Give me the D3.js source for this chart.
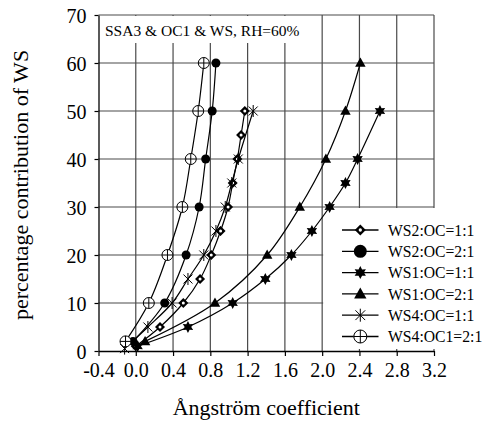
<!DOCTYPE html>
<html>
<head>
<meta charset="utf-8">
<script src="https://cdn.jsdelivr.net/npm/d3@7"></script>
<style>
    body { margin: 0; background: #fff; }
    svg { display: block; }
    text { font-family: "Liberation Serif", "DejaVu Serif", serif; fill: #000; }
    .tick-label { font-size: 20px; }
    .axis-title { font-size: 22px; }
    .legend-label { font-size: 15.7px; }
    .chart-title { font-size: 15.5px; }
</style>
</head>
<body>
<div id="chart"></div>
<script>
// Tick values
const xTicks = [-0.4, 0.0, 0.4, 0.8, 1.2, 1.6, 2.0, 2.4, 2.8, 3.2];
const yTicks = [0, 10, 20, 30, 40, 50, 60, 70];

// Series values: [Ångström coefficient, percentage contribution of WS]
const ws2Oc11 = [[0.00, 1], [0.26, 5], [0.51, 10], [0.69, 15], [0.81, 20], [0.91, 25], [0.99, 30], [1.04, 35], [1.09, 40], [1.13, 45], [1.17, 50]];
const ws2Oc21 = [[-0.03, 2], [0.31, 10], [0.54, 20], [0.68, 30], [0.75, 40], [0.82, 50], [0.86, 60]];
const ws1Oc11 = [[0.02, 1], [0.56, 5], [1.04, 10], [1.39, 15], [1.67, 20], [1.89, 25], [2.08, 30], [2.25, 35], [2.38, 40], [2.62, 50]];
const ws1Oc21 = [[0.10, 2], [0.85, 10], [1.41, 20], [1.76, 30], [2.04, 40], [2.25, 50], [2.41, 60]];
const ws4Oc11 = [[-0.12, 0.5], [0.13, 5], [0.39, 10], [0.56, 15], [0.73, 20], [0.86, 25], [0.96, 30], [1.03, 35], [1.10, 40], [1.26, 50]];
const ws4Oc121 = [[-0.11, 2], [0.14, 10], [0.34, 20], [0.50, 30], [0.59, 40], [0.67, 50], [0.73, 60]];

const seriesNames = ["WS2:OC=1:1", "WS2:OC=2:1", "WS1:OC=1:1", "WS1:OC=2:1", "WS4:OC=1:1", "WS4:OC1=2:1"];
const seriesValues = [ws2Oc11, ws2Oc21, ws1Oc11, ws1Oc21, ws4Oc11, ws4Oc121];
const markerTypes = ["diamond", "dot", "star", "triangle", "asterisk", "circlePlus"];

const chartTitle = "SSA3 & OC1 & WS, RH=60%";
const xTitle = "Ångström coefficient";
const yTitle = "percentage contribution of WS";

(() => {
    const width = 483;
    const height = 421;
    const margin = { top: 15, right: 49, bottom: 70, left: 98.5 };
    const innerWidth = width - margin.left - margin.right;
    const innerHeight = height - margin.top - margin.bottom;

    const svg = d3.select("#chart")
        .append("svg")
        .attr("width", width)
        .attr("height", height);

    const g = svg.append("g")
        .attr("transform", `translate(${margin.left}, ${margin.top})`);

    const x = d3.scaleLinear().domain([-0.4, 3.2]).range([0, innerWidth]);
    const y = d3.scaleLinear().domain([0, 70]).range([innerHeight, 0]);

    // Grid lines
    const grid = g.append("g").attr("stroke", "#4a4a4a").attr("stroke-width", 1.2);
    grid.selectAll("line.v").data(xTicks.slice(1)).enter()
        .append("line")
        .attr("x1", d => x(d)).attr("x2", d => x(d))
        .attr("y1", 0).attr("y2", innerHeight);
    grid.selectAll("line.h").data(yTicks.slice(1)).enter()
        .append("line")
        .attr("x1", 0).attr("x2", innerWidth)
        .attr("y1", d => y(d)).attr("y2", d => y(d));

    // White box behind the chart title
    g.append("rect")
        .attr("x", 1).attr("y", 1)
        .attr("width", x(1.85) - 1).attr("height", 27)
        .attr("fill", "#fff");
    g.append("text")
        .text(chartTitle)
        .classed("chart-title", true)
        .attr("x", 6.5).attr("y", 21);

    // White box behind the legend
    const legendLeft = x(2.0) + 1;
    g.append("rect")
        .attr("x", legendLeft).attr("y", y(30) + 1)
        .attr("width", width - margin.left - legendLeft)
        .attr("height", y(0) - y(30) - 3)
        .attr("fill", "#fff");

    // Axes
    const xAxis = g.append("g")
        .attr("transform", `translate(0, ${innerHeight})`)
        .call(d3.axisBottom(x).tickValues(xTicks).tickSizeInner(5).tickSizeOuter(0).tickPadding(7)
            .tickFormat(d => d3.format(".1f")(d).replace("−", "-")));
    const yAxis = g.append("g")
        .call(d3.axisLeft(y).tickValues(yTicks).tickSizeInner(4).tickSizeOuter(0).tickPadding(8));
    [xAxis, yAxis].forEach(ax => {
        ax.attr("font-family", null).attr("font-size", null);
        ax.select(".domain").attr("stroke", "#000").attr("stroke-width", 1.3);
        ax.selectAll(".tick line").attr("stroke", "#000").attr("stroke-width", 1.2);
        ax.selectAll(".tick text")
            .classed("tick-label", true)
            .attr("fill", "#000");
    });
    yAxis.selectAll(".tick text").attr("dy", "0.38em");

    // Marker shapes
    function drawMarker(sel, type, s) {
        if (type === "diamond") {
            sel.append("path")
                .attr("d", `M0,${-s}L${s},0L0,${s}L${-s},0Z`)
                .attr("fill", "#000");
            sel.append("circle").attr("r", s * 0.3).attr("fill", "#fff");
        } else if (type === "dot") {
            sel.append("circle").attr("r", s).attr("fill", "#000");
        } else if (type === "star") {
            const pts = d3.range(12).map(i => {
                const a = -Math.PI / 2 + i * Math.PI / 6;
                const r = i % 2 === 0 ? s : s * 0.55;
                return [r * Math.cos(a), r * Math.sin(a)];
            });
            sel.append("path").attr("d", "M" + pts.join("L") + "Z").attr("fill", "#000");
        } else if (type === "triangle") {
            sel.append("path")
                .attr("d", `M0,${-s}L${s * 0.95},${s * 0.7}L${-s * 0.95},${s * 0.7}Z`)
                .attr("fill", "#000");
        } else if (type === "asterisk") {
            const d = s * 0.75;
            sel.append("path")
                .attr("d", `M0,${-s}L0,${s}M${-d},${-d}L${d},${d}M${-d},${d}L${d},${-d}`)
                .attr("stroke", "#000").attr("stroke-width", 1).attr("fill", "none");
        } else if (type === "circlePlus") {
            sel.append("circle").attr("r", s).attr("fill", "#fff")
                .attr("stroke", "#000").attr("stroke-width", 1);
            sel.append("path")
                .attr("d", `M0,${-s}L0,${s}M${-s},0L${s},0`)
                .attr("stroke", "#000").attr("stroke-width", 1);
        }
    }
    const plotSizes = { diamond: 5, dot: 4.5, star: 6, triangle: 5.5, asterisk: 6, circlePlus: 5.5 };
    const legendSizes = { diamond: 5.5, dot: 6.5, star: 6.5, triangle: 6.5, asterisk: 6.5, circlePlus: 6.5 };

    // Series lines and markers
    const line = d3.line()
        .x(d => x(d[0]))
        .y(d => y(d[1]))
        .curve(d3.curveCatmullRom.alpha(0.5));

    seriesValues.forEach((values, i) => {
        g.append("path")
            .datum(values)
            .attr("d", line)
            .attr("fill", "none")
            .attr("stroke", "#000")
            .attr("stroke-width", 1.2);
        const marks = g.append("g").selectAll("g").data(values);
        marks.enter()
            .append("g")
            .attr("transform", d => `translate(${x(d[0])}, ${y(d[1])})`)
            .each(function() { drawMarker(d3.select(this), markerTypes[i], plotSizes[markerTypes[i]]); });
    });

    // Legend
    const legend = svg.append("g").attr("transform", "translate(342, 230)");
    seriesNames.forEach((name, i) => {
        const row = legend.append("g").attr("transform", `translate(0, ${i * 21.3})`);
        row.append("line")
            .attr("x1", 0).attr("x2", 36.5)
            .attr("stroke", "#000").attr("stroke-width", 1.3);
        drawMarker(row.append("g").attr("transform", "translate(18.3, 0)"), markerTypes[i], legendSizes[markerTypes[i]]);
        row.append("text")
            .text(name)
            .classed("legend-label", true)
            .attr("x", 46)
            .attr("y", 5.8);
    });

    // Axis titles
    svg.append("text")
        .text(xTitle)
        .classed("axis-title", true)
        .style("text-anchor", "middle")
        .attr("x", margin.left + innerWidth / 2)
        .attr("y", 415);

    svg.append("text")
        .text(yTitle)
        .classed("axis-title", true)
        .style("text-anchor", "middle")
        .attr("transform", `translate(27.5, ${margin.top + innerHeight / 2 + 2}) rotate(-90)`);
})();
</script>
</body>
</html>
